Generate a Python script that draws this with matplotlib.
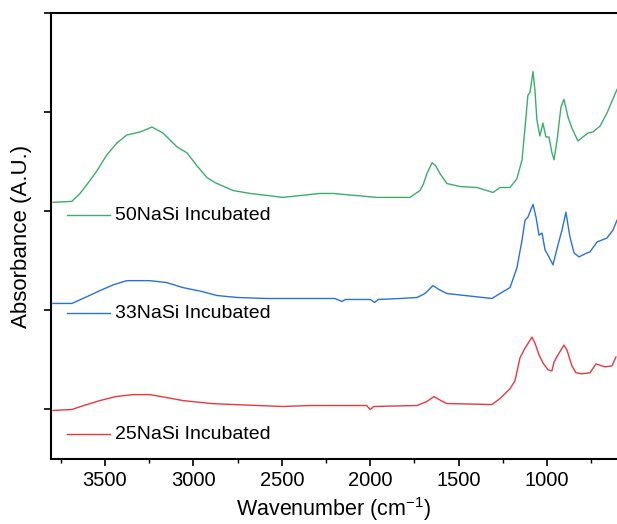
import matplotlib
matplotlib.use('Agg')
import matplotlib.pyplot as plt
from matplotlib.ticker import MultipleLocator

plt.rcParams['font.family'] = ['Liberation Sans', 'DejaVu Sans']
plt.rcParams['mathtext.default'] = 'regular'

# wavenumber (cm-1) and offset absorbance
wn_50 = [3794, 3687, 3641, 3585, 3545, 3489, 3432, 3376, 3302, 3234, 3172, 3132, 3093,
         3036, 2980, 2923, 2878, 2776, 2680, 2584, 2493, 2284, 2210, 1962, 1775, 1718,
         1700, 1679, 1650, 1630, 1605, 1566, 1492, 1396, 1305, 1266, 1209, 1170, 1141,
         1124, 1108, 1096, 1079, 1068, 1057, 1040, 1023, 1006, 989, 972, 960, 943, 921,
         904, 881, 859, 825, 768, 740, 700, 661, 604]
abs_50 = [2.09, 2.10, 2.18, 2.31, 2.41, 2.57, 2.69, 2.77, 2.80, 2.85, 2.79, 2.72, 2.65,
          2.59, 2.46, 2.34, 2.29, 2.21, 2.18, 2.16, 2.14, 2.18, 2.18, 2.14, 2.14, 2.21,
          2.27, 2.38, 2.49, 2.46, 2.38, 2.28, 2.25, 2.24, 2.19, 2.24, 2.24, 2.33, 2.52,
          2.85, 3.17, 3.20, 3.41, 3.22, 2.92, 2.76, 2.89, 2.75, 2.75, 2.59, 2.52, 2.72, 3.05,
          3.13, 2.95, 2.84, 2.71, 2.79, 2.80, 2.86, 2.99, 3.23]

wn_33 = [3794, 3687, 3600, 3528, 3450, 3376, 3245, 3150, 3059, 2950, 2867, 2750, 2584,
         2341, 2200, 2160, 2140, 2000, 1975, 1955, 1831, 1735, 1690, 1645, 1610, 1566,
         1311, 1266, 1209, 1170, 1141, 1124, 1108, 1079, 1062, 1045, 1028, 1011, 989, 966,
         938, 915, 893, 870, 847, 819, 774, 757, 717, 661, 627, 604]
abs_33 = [1.07, 1.07, 1.14, 1.20, 1.26, 1.30, 1.30, 1.28, 1.23, 1.19, 1.15, 1.13, 1.12,
          1.12, 1.12, 1.09, 1.11, 1.11, 1.08, 1.11, 1.12, 1.13, 1.17, 1.25, 1.21, 1.17,
          1.12, 1.17, 1.23, 1.43, 1.71, 1.91, 1.94, 2.07, 1.94, 1.76, 1.78, 1.61, 1.54, 1.46,
          1.66, 1.81, 1.99, 1.74, 1.58, 1.54, 1.58, 1.59, 1.69, 1.73, 1.81, 1.91]

wn_25 = [3794, 3687, 3620, 3528, 3440, 3342, 3245, 3150, 3059, 2900, 2776, 2493, 2341,
         2020, 2000, 1980, 1735, 1680, 1639, 1600, 1566, 1311, 1266, 1209, 1181, 1153,
         1124, 1085, 1068, 1045, 1023, 994, 972, 960, 938, 904, 887, 859, 836, 802, 757,
         723, 672, 632, 610]
abs_25 = [-0.01, 0.0, 0.04, 0.09, 0.13, 0.15, 0.15, 0.12, 0.09, 0.06, 0.05, 0.03, 0.04,
          0.04, 0.0, 0.03, 0.04, 0.08, 0.13, 0.09, 0.06, 0.05, 0.11, 0.21, 0.29, 0.52,
          0.62, 0.73, 0.67, 0.55, 0.47, 0.40, 0.39, 0.48, 0.55, 0.65, 0.60, 0.44, 0.37, 0.36,
          0.37, 0.46, 0.43, 0.44, 0.53]

labels = ['50NaSi Incubated', '33NaSi Incubated', '25NaSi Incubated']
colors = ['#3aae6a', '#2a70dc', '#e8383e']

fig = plt.figure(figsize=(6.17, 5.24), dpi=100)
ax = fig.add_axes([0.0827, 0.124, 0.9173, 0.851])

ax.plot(wn_50, abs_50, color=colors[0], lw=1.0)
ax.plot(wn_33, abs_33, color=colors[1], lw=1.0)
ax.plot(wn_25, abs_25, color=colors[2], lw=1.0)

ax.set_xlim(3805, 604)
ax.set_ylim(-0.5, 4.0)

# labels placed under each trace, like in the original
label_y = [0.547, 0.327, 0.056]
for lab, col, yy in zip(labels, colors, label_y):
    ax.plot([0.028, 0.104], [yy, yy], color=col, lw=1.0, transform=ax.transAxes)
    ax.text(0.113, yy, lab, transform=ax.transAxes, ha='left', va='center', fontsize=14)

ax.xaxis.set_major_locator(MultipleLocator(500))
ax.xaxis.set_minor_locator(MultipleLocator(250))
ax.yaxis.set_major_locator(MultipleLocator(1))
ax.set_yticklabels([])
ax.tick_params(axis='x', which='major', direction='out', length=5, width=1.2, labelsize=14.5, top=False)
ax.tick_params(axis='x', which='minor', direction='out', length=3, width=1.0, top=False)
ax.tick_params(axis='y', which='major', direction='out', length=5, width=1.2, right=False)

for s in ['left', 'bottom', 'top']:
    ax.spines[s].set_linewidth(1.5)
ax.spines['right'].set_visible(False)

ax.set_xlabel('Wavenumber (cm$^{-1}$)', fontsize=15.5, labelpad=4)
ax.set_ylabel('Absorbance (A.U.)', fontsize=16, labelpad=5)

fig.savefig('out.png', dpi=100)
